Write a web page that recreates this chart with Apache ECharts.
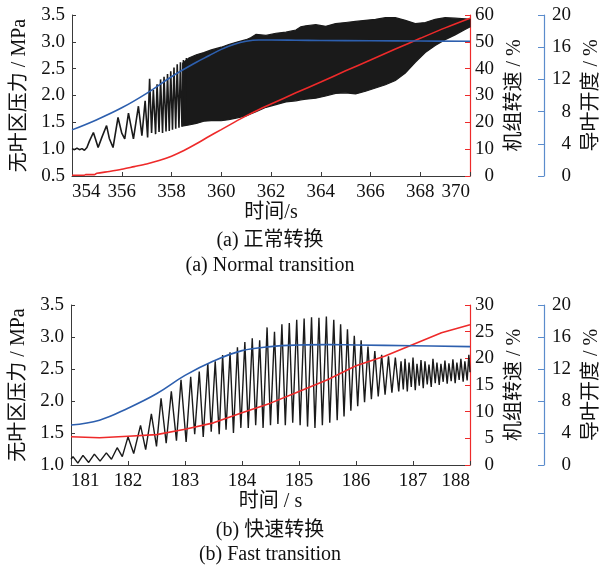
<!DOCTYPE html>
<html><head><meta charset="utf-8">
<script src="https://cdn.jsdelivr.net/npm/echarts@6/dist/echarts.min.js"></script>
<style>html,body{margin:0;padding:0;background:#fff}#c{width:599px;height:567px}</style>
</head><body><div id="c"></div>
<script>
// ---------- Panel (a): normal transition ----------
const aPressT = [354.00,354.10,354.20,354.30,354.40,354.50,354.60,354.70,354.86,354.95,355.05,355.20,355.39,355.50,355.65,355.85,356.00,356.12,356.27,356.47,356.67,356.81,356.94,357.04,357.12,357.20,357.27,357.36,357.42,357.50,357.56,357.64,357.70,357.78,357.84,357.91,357.97,358.04,358.10,358.17,358.23,358.30,358.36,358.42,358.48,358.54,358.60];
const aPressV = [1.01,0.99,1.02,0.99,1.01,0.98,1.03,1.15,1.31,1.18,1.03,1.22,1.44,1.20,1.03,1.59,1.30,1.19,1.67,1.19,1.80,1.25,1.90,1.22,2.31,1.30,2.10,1.28,2.21,1.32,2.30,1.30,2.35,1.33,2.40,1.34,2.45,1.36,2.52,1.38,2.58,1.40,2.62,1.42,2.66,1.43,2.70];
const aBandT    = [358.45,358.7,359.0,359.3,359.6,360.0,360.3,360.6,361.0,361.2,361.4,361.8,362.2,362.6,363.0,363.2,363.4,363.8,364.2,364.6,365.0,365.4,365.8,366.2,366.6,367.0,367.4,367.8,368.2,368.6,369.0,369.4,369.8,370.0];
const aBandHigh = [2.60,2.70,2.76,2.80,2.85,2.90,2.95,2.99,3.04,3.08,3.14,3.12,3.16,3.18,3.22,3.28,3.30,3.32,3.29,3.34,3.36,3.38,3.40,3.42,3.45,3.45,3.40,3.34,3.36,3.42,3.45,3.44,3.43,3.42];
const aBandLow  = [1.43,1.45,1.48,1.52,1.53,1.53,1.55,1.58,1.62,1.66,1.70,1.78,1.83,1.88,1.90,1.92,1.93,1.95,1.99,2.04,2.05,2.03,2.08,2.14,2.20,2.28,2.42,2.62,2.80,2.93,3.04,3.13,3.23,3.28];
const aSpeedT = [354.0,354.5,354.55,354.9,355.0,355.5,356.0,356.5,357.0,357.5,358.0,358.5,359.0,359.5,360.0,360.5,361.0,361.5,362.0,363.0,364.0,365.0,366.0,367.0,368.0,369.0,370.0];
const aSpeedV = [0.3,0.3,0.5,0.5,1.0,1.7,2.5,3.5,4.5,5.8,7.4,9.5,12.0,14.7,17.3,19.9,22.4,24.7,26.8,31.0,35.0,39.2,43.2,47.3,51.3,55.2,58.8];
const aVaneT = [354,355,356,357,358,359,359.5,360,360.5,361,361.5,362,363,364,366,368,370];
const aVaneV = [5.73,7.0,8.47,10.27,12.33,14.13,14.93,15.73,16.33,16.73,16.9,16.9,16.87,16.83,16.8,16.77,16.73];

// ---------- Panel (b): fast transition ----------
const bPressT = [181.00,181.035,181.12,181.21,181.31,181.41,181.51,181.62,181.71,181.81,181.90,182.00,182.10,182.22,182.31,182.41,182.50,182.58,182.67,182.76,182.85,182.93,183.02,183.10,183.17,183.25,183.32,
183.40,183.46,183.53,183.60,183.66,183.72,183.79,183.85,183.92,183.98,184.05,184.11,184.18,184.24,184.31,184.37,184.44,184.50,184.57,184.63,184.70,184.76,184.83,184.89,184.96,185.02,185.09,185.15,185.22,185.28,185.35,185.41,185.48,185.54,185.61,185.67,185.73,185.79,185.85,185.91,185.97,186.03,186.09,186.15,186.21,186.27,186.33,186.39,186.45,186.51,186.57,186.63,186.69,186.75,
186.79,186.83,186.86,186.90,186.93,186.97,187.00,187.04,187.07,187.11,187.14,187.18,187.21,187.25,187.28,187.32,187.35,187.39,187.42,187.46,187.49,187.53,187.56,187.60,187.63,187.67,187.70,187.74,187.77,187.81,187.84,187.88,187.91,187.95,187.98,188.00];
const bPressV = [1.09,1.13,1.03,1.15,1.04,1.17,1.06,1.19,1.09,1.27,1.13,1.44,1.18,1.62,1.24,1.80,1.29,2.04,1.34,2.15,1.38,2.33,1.36,2.38,1.48,2.46,1.44,
2.59,1.52,2.62,1.48,2.72,1.55,2.76,1.50,2.84,1.58,2.92,1.58,2.98,1.62,2.95,1.58,3.15,1.62,3.08,1.64,3.20,1.62,3.22,1.66,3.27,1.62,3.29,1.60,3.31,1.58,3.30,1.62,3.32,1.66,3.27,1.70,3.20,1.76,3.12,1.85,3.02,1.92,2.95,1.98,2.85,2.03,2.78,2.07,2.72,2.10,2.70,2.13,2.68,2.15,
2.62,2.18,2.66,2.15,2.60,2.22,2.68,2.17,2.58,2.24,2.64,2.20,2.62,2.26,2.57,2.22,2.66,2.28,2.60,2.25,2.58,2.30,2.63,2.27,2.59,2.31,2.65,2.28,2.60,2.33,2.66,2.30,2.62,2.32,2.72,2.45];
const bSpeedT = [181,181.5,182,182.5,183,183.5,184,184.5,185,185.5,186,186.5,187,187.5,188];
const bSpeedV = [5.3,5.1,5.4,5.7,6.7,7.9,9.8,11.6,13.8,16.0,18.6,20.4,22.6,24.8,26.3];
const bVaneT = [181,181.5,182,182.5,183,183.5,184,184.5,185,185.5,186,187,188];
const bVaneV = [5.0,5.6,7.1,8.9,11.2,13.0,14.3,14.8,15.0,15.05,15.0,14.9,14.8];

// ---------- labels ----------
const leftName = '无叶区压力 / MPa';
const redName = '机组转速 / %';
const blueName = '导叶开度 / %';
const xNameA = '时间/s';
const xNameB = '时间 / s';
const capA1 = '(a) 正常转换', capA2 = '(a) Normal transition';
const capB1 = '(b) 快速转换', capB2 = '(b) Fast transition';

const FONT = '"Liberation Serif", "Noto Sans CJK SC", serif';
const AX = '#3a3a3a', RED = '#ee2a2a', BLUE = '#2d5fae', BLUEAX = '#5b8ccc', BLK = '#1a1a1a';
const zip = (t, v) => t.map((x, i) => [x, v[i]]);

function xAxis(grid, min, max, interval, name) {
  return {type:'value', gridIndex:grid, min, max, interval, name, nameLocation:'middle', nameGap:27,
    nameTextStyle:{fontFamily:FONT, fontSize:20, color:'#111'},
    axisLine:{show:true, onZero:false, lineStyle:{color:AX, width:1}},
    axisTick:{show:true, inside:true, length:4, lineStyle:{color:AX}},
    axisLabel:{fontFamily:FONT, fontSize:19, color:'#111', margin:7, alignMinLabel:'left', alignMaxLabel:'right'},
    splitLine:{show:false}};
}
function yAxes(grid, lmin, lmax, lint, rmax, rint) {
  return [
    {type:'value', gridIndex:grid, position:'left', min:lmin, max:lmax, interval:lint,
      name:leftName, nameLocation:'middle', nameRotate:90, nameGap:42,
      nameTextStyle:{fontFamily:FONT, fontSize:20, color:'#111'},
      axisLine:{show:true, onZero:false, lineStyle:{color:AX, width:1}},
      axisTick:{show:true, inside:true, length:4, lineStyle:{color:AX}},
      axisLabel:{fontFamily:FONT, fontSize:19, color:'#111', margin:7, formatter:v => v.toFixed(1)},
      splitLine:{show:false}},
    {type:'value', gridIndex:grid, position:'right', offset:0, min:0, max:rmax, interval:rint,
      name:redName, nameLocation:'middle', nameRotate:90, nameGap:34,
      nameTextStyle:{fontFamily:FONT, fontSize:20, color:'#111'},
      axisLine:{show:true, onZero:false, lineStyle:{color:RED, width:1.2}},
      axisTick:{show:true, inside:true, length:5, lineStyle:{color:RED}},
      axisLabel:{fontFamily:FONT, fontSize:19, color:'#111', margin:24, align:'right'},
      splitLine:{show:false}},
    {type:'value', gridIndex:grid, position:'right', offset:74, min:0, max:20, interval:4,
      name:blueName, nameLocation:'middle', nameRotate:90, nameGap:35,
      nameTextStyle:{fontFamily:FONT, fontSize:20, color:'#111'},
      axisLine:{show:true, onZero:false, lineStyle:{color:BLUEAX, width:1.2}},
      axisTick:{show:true, inside:true, length:6, lineStyle:{color:BLUEAX}},
      axisLabel:{fontFamily:FONT, fontSize:19, color:'#111', margin:27, align:'right'},
      splitLine:{show:false}}
  ];
}
const line = (x, y, data, color, width, extra) => Object.assign({type:'line', xAxisIndex:x, yAxisIndex:y, data,
  symbol:'none', silent:true, lineStyle:{color, width}, itemStyle:{color}}, extra || {});

const bandData = aBandT.map((t, i) => [t, aBandLow[i], aBandHigh[i]]);

const option = {
  animation:false,
  backgroundColor:'#fff',
  grid:[
    {left:72, top:15, width:398, height:161, containLabel:false, outerBoundsMode:'none'},
    {left:71, top:305, width:399, height:160, containLabel:false, outerBoundsMode:'none'}
  ],
  xAxis:[xAxis(0, 354, 370, 2, xNameA), xAxis(1, 181, 188, 1, xNameB)],
  yAxis:[...yAxes(0, 0.5, 3.5, 0.5, 60, 10), ...yAxes(1, 1.0, 3.5, 0.5, 30, 5)],
  series:[
    line(0, 0, zip(aPressT, aPressV), BLK, 1.6),
    {type:'custom', xAxisIndex:0, yAxisIndex:0, silent:true, data:bandData,
      encode:{x:0, y:[1, 2]},
      renderItem:(params, api) => {
        if (params.dataIndex !== 0) return null;
        const pts = [];
        for (let i = 0; i < bandData.length; i++) pts.push(api.coord([bandData[i][0], bandData[i][2]]));
        for (let i = bandData.length - 1; i >= 0; i--) pts.push(api.coord([bandData[i][0], bandData[i][1]]));
        return {type:'polygon', shape:{points:pts}, style:{fill:BLK, stroke:BLK, lineWidth:1.2}};
      }},
    line(0, 1, zip(aSpeedT, aSpeedV), RED, 1.6, {smooth:0.3}),
    line(0, 2, zip(aVaneT, aVaneV), BLUE, 1.6, {smooth:0.4}),
    line(1, 3, zip(bPressT, bPressV), BLK, 1.4),
    line(1, 4, zip(bSpeedT, bSpeedV), RED, 1.6),
    line(1, 5, zip(bVaneT, bVaneV), BLUE, 1.6, {smooth:0.4})
  ],
  graphic:[
    {type:'text', x:270, y:241, style:{text:capA1, font:'20px ' + FONT, fill:'#111', textAlign:'center', textVerticalAlign:'middle'}},
    {type:'text', x:270, y:266, style:{text:capA2, font:'20px ' + FONT, fill:'#111', textAlign:'center', textVerticalAlign:'middle'}},
    {type:'text', x:270, y:531, style:{text:capB1, font:'20px ' + FONT, fill:'#111', textAlign:'center', textVerticalAlign:'middle'}},
    {type:'text', x:270, y:555, style:{text:capB2, font:'20px ' + FONT, fill:'#111', textAlign:'center', textVerticalAlign:'middle'}}
  ]
};
const chart = echarts.init(document.getElementById('c'), null, {renderer:'canvas'});
chart.setOption(option);
</script></body></html>
